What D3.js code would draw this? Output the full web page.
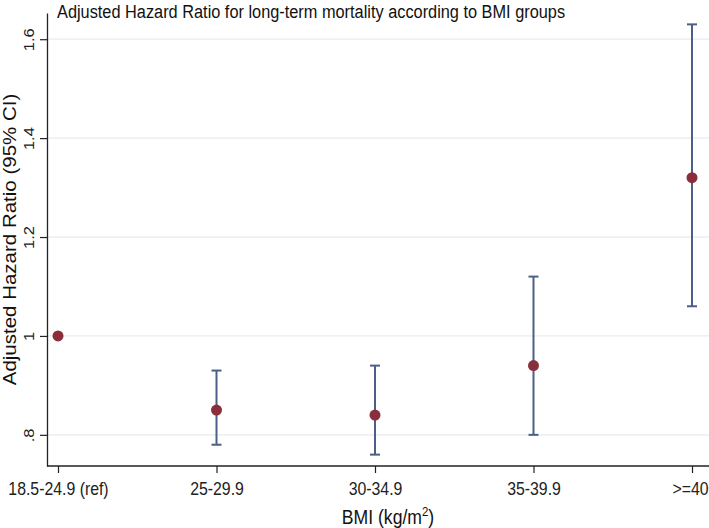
<!DOCTYPE html>
<html>
<head>
<meta charset="utf-8">
<script src="https://cdn.jsdelivr.net/npm/d3@7"></script>
<style>
  html, body { margin: 0; padding: 0; background: #fff; }
  svg { display: block; font-family: "Liberation Sans", Arial, sans-serif; }
</style>
</head>
<body>
<svg id="chart" width="709" height="528"></svg>
<script>
const categories = ["18.5-24.9 (ref)", "25-29.9", "30-34.9", "35-39.9", ">=40"];
const hazardRatio = [1.00, 0.85, 0.84, 0.94, 1.32];
const ciLower = [null, 0.78, 0.76, 0.80, 1.06];
const ciUpper = [null, 0.93, 0.94, 1.12, 1.63];
const yTicks = [0.8, 1.0, 1.2, 1.4, 1.6];
const yTickLabels = [".8", "1", "1.2", "1.4", "1.6"];

const W = 709, H = 528;
const plot = { left: 47, top: 13, right: 709, bottom: 466 };
const squeeze = 0.88;

const svg = d3.select("#chart");

const x = d3.scalePoint()
  .domain(categories)
  .range([58, 692]);

const y = d3.scaleLinear()
  .domain([0.737, 1.653])
  .range([plot.bottom, plot.top]);

// gridlines
svg.append("g")
  .selectAll("line")
  .data(yTicks)
  .join("line")
  .attr("x1", plot.left)
  .attr("x2", plot.right)
  .attr("y1", d => y(d))
  .attr("y2", d => y(d))
  .attr("stroke", "#e4ecf0")
  .attr("stroke-width", 1.2);

// y axis
const yAxis = d3.axisLeft(y)
  .tickValues(yTicks)
  .tickFormat((d, i) => yTickLabels[i])
  .tickSize(7)
  .tickSizeOuter(0);
const gy = svg.append("g")
  .attr("transform", `translate(${plot.left},0)`)
  .call(yAxis);
gy.select(".domain").attr("stroke", "#222").attr("stroke-width", 1.3);
gy.selectAll(".tick line").attr("stroke", "#222").attr("stroke-width", 1.2);
gy.selectAll(".tick text")
  .attr("x", null).attr("dy", null)
  .attr("text-anchor", "middle")
  .attr("transform", `translate(-13,0) scale(${squeeze},1) rotate(-90)`)
  .attr("fill", "#222")
  .style("font-size", "16.5px");

// x axis
const xAxis = d3.axisBottom(x)
  .tickSize(7)
  .tickSizeOuter(0);
const gx = svg.append("g")
  .attr("transform", `translate(0,${plot.bottom})`)
  .call(xAxis);
gx.select(".domain")
  .attr("d", `M${plot.left},0H${plot.right}`)
  .attr("stroke", "#222").attr("stroke-width", 1.3);
gx.selectAll(".tick line").attr("stroke", "#222").attr("stroke-width", 1.2);
gx.selectAll(".tick text")
  .attr("y", null).attr("dy", null)
  .attr("transform", `translate(0,29) scale(${squeeze},1)`)
  .attr("fill", "#222")
  .style("font-size", "18px");
// keep the last label inside the canvas
gx.selectAll(".tick text")
  .filter(d => d === categories[categories.length - 1])
  .attr("text-anchor", "end")
  .attr("transform", `translate(${W - 1 - x(categories[categories.length - 1])},29) scale(${squeeze},1)`);

// error bars
const rows = categories.map((c, i) => ({ c, hr: hazardRatio[i], lo: ciLower[i], hi: ciUpper[i] }));
const withCI = rows.filter(d => d.lo !== null);
const capHalf = 5;
const barColor = "#4b5f88";
const eb = svg.append("g").attr("stroke", barColor).attr("stroke-width", 2).attr("fill", "none");
eb.selectAll("line.v").data(withCI).join("line").attr("class", "v")
  .attr("x1", d => x(d.c)).attr("x2", d => x(d.c))
  .attr("y1", d => y(d.lo)).attr("y2", d => y(d.hi));
eb.selectAll("line.top").data(withCI).join("line").attr("class", "top")
  .attr("x1", d => x(d.c) - capHalf).attr("x2", d => x(d.c) + capHalf)
  .attr("y1", d => y(d.hi)).attr("y2", d => y(d.hi));
eb.selectAll("line.bot").data(withCI).join("line").attr("class", "bot")
  .attr("x1", d => x(d.c) - capHalf).attr("x2", d => x(d.c) + capHalf)
  .attr("y1", d => y(d.lo)).attr("y2", d => y(d.lo));

// points
svg.append("g").selectAll("circle").data(rows).join("circle")
  .attr("cx", d => x(d.c))
  .attr("cy", d => y(d.hr))
  .attr("r", 5.5)
  .attr("fill", "#8a2e3b");

// title
svg.append("text")
  .attr("transform", `translate(57,18) scale(${squeeze - 0.02},1)`)
  .attr("fill", "#111")
  .style("font-size", "19px")
  .text("Adjusted Hazard Ratio for long-term mortality according to BMI groups");

// y label
svg.append("text")
  .attr("transform", `translate(16,${(plot.top + plot.bottom) / 2}) scale(${squeeze},1) rotate(-90)`)
  .attr("text-anchor", "middle")
  .attr("fill", "#111")
  .style("font-size", "20.5px")
  .text("Adjusted Hazard Ratio (95% CI)");

// x label
const xl = svg.append("text")
  .attr("transform", `translate(${(plot.left + plot.right) / 2 + 10},524) scale(${squeeze},1)`)
  .attr("text-anchor", "middle")
  .attr("fill", "#111")
  .style("font-size", "20px");
xl.append("tspan").text("BMI (kg/m");
xl.append("tspan").attr("dy", -8).style("font-size", "13px").text("2");
xl.append("tspan").attr("dy", 8).text(")");
</script>
</body>
</html>
